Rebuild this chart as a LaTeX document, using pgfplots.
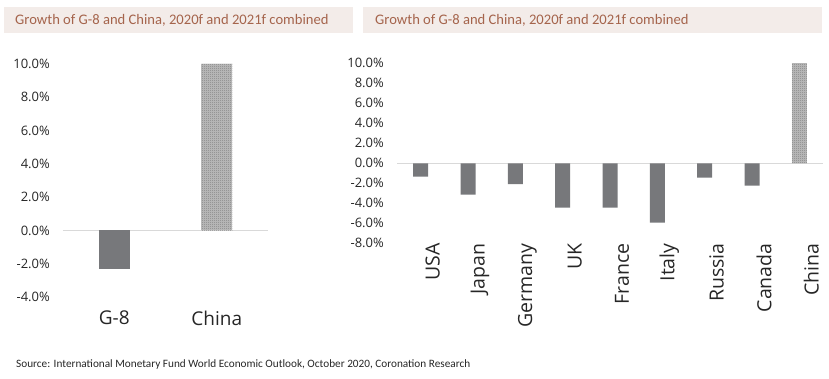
\documentclass[border=0pt]{standalone}
\usepackage{fontspec}
\setmainfont{Open Sans}
\newfontfamily\titlefont{Carlito}
\usepackage{pgfplots}
\pgfplotsset{compat=1.18}
\usetikzlibrary{patterns.meta}
\definecolor{bargray}{HTML}{77787B}
\definecolor{zerogray}{HTML}{D9D9D9}
\definecolor{titlebg}{HTML}{F3ECE9}
\definecolor{titlefg}{HTML}{A5644C}
\definecolor{checkbg}{HTML}{C0C0C0}
\definecolor{checkfg}{HTML}{6A6A6A}
\definecolor{txt}{HTML}{262626}
\tikzdeclarepattern{name=checker, type=uncolored, bottom left={(0pt,0pt)}, top right={(2pt,2pt)}, tile size={(2pt,2pt)}, code={\fill (0pt,0pt) rectangle (1pt,1pt); \fill (1pt,1pt) rectangle (2pt,2pt);}}
\pgfplotsset{
  mystyle/.style={
    scale only axis,
    axis line style={draw=none},
    major tick length=0pt,
    tick style={draw=none},
    /pgf/number format/assume math mode=true,
    yticklabel={\pgfmathprintnumber[fixed,fixed zerofill,precision=1]{\tick}\%},
    yticklabel style={font=\fontsize{13}{15}\selectfont, text=txt, inner sep=0pt, xshift=-13pt},
    clip=false,
  }
}
\begin{document}
\begin{tikzpicture}[x=1pt,y=1pt]
\path[use as bounding box] (0,0) rectangle (829,378);
% title boxes
\fill[titlebg] (4,345) rectangle (353,371);
\node[anchor=west, inner sep=0pt, text=titlefg, font=\titlefont\fontsize{14.6}{16}\selectfont] at (15,358) {Growth of G-8 and China, 2020f and 2021f combined};
\fill[titlebg] (363,345) rectangle (822,371);
\node[anchor=west, inner sep=0pt, text=titlefg, font=\titlefont\fontsize{14.6}{16}\selectfont] at (375,358) {Growth of G-8 and China, 2020f and 2021f combined};
% left chart
\begin{axis}[mystyle,
  at={(63pt,81pt)}, anchor=south west,
  width=205pt, height=233pt,
  xmin=-0.5, xmax=1.5, ymin=-4, ymax=10,
  ytick={-4,-2,...,10},
  xtick={0,1},
  xticklabels={G-8,China},
  xticklabel style={font=\fontsize{19}{21}\selectfont, text=txt, inner sep=0pt, yshift=-14pt},
]
\draw[zerogray, line width=0.8pt] (axis cs:-0.5,0) -- (axis cs:1.5,0);
\addplot[ybar, bar shift=0pt, bar width=31pt, fill=bargray, draw=none] coordinates {(0,-2.3)};
\addplot[ybar, bar shift=0pt, bar width=31pt, draw=none, fill=checkbg, postaction={pattern=checker, pattern color=checkfg}] coordinates {(1,10.0)};
\end{axis}
% right chart
\begin{axis}[mystyle,
  at={(397pt,134.7pt)}, anchor=south west,
  width=426pt, height=180pt,
  xmin=-0.5, xmax=8.5, ymin=-8, ymax=10,
  ytick={-8,-6,...,10},
  xtick={0,1,...,8},
  xticklabels={USA,Japan,Germany,UK,France,Italy,Russia,Canada,China},
  xticklabel style={font=\fontsize{19.5}{21}\selectfont, text=txt, inner sep=0pt, rotate=90, anchor=east, yshift=-12pt},
]
\draw[zerogray, line width=0.8pt] (axis cs:-0.5,0) -- (axis cs:8.5,0);
\addplot[ybar, bar shift=0pt, bar width=15pt, fill=bargray, draw=none] coordinates {(0,-1.33) (1,-3.13) (2,-2.07) (3,-4.43) (4,-4.43) (5,-5.93) (6,-1.43) (7,-2.23)};
\addplot[ybar, bar shift=0pt, bar width=15pt, draw=none, fill=checkbg, postaction={pattern=checker, pattern color=checkfg}] coordinates {(8,10.0)};
\end{axis}
% source
\node[anchor=west, inner sep=0pt, text=txt, font=\titlefont\fontsize{11.25}{13}\selectfont] at (16,14) {Source: International Monetary Fund World Economic Outlook, October 2020, Coronation Research};
\end{tikzpicture}
\end{document}
